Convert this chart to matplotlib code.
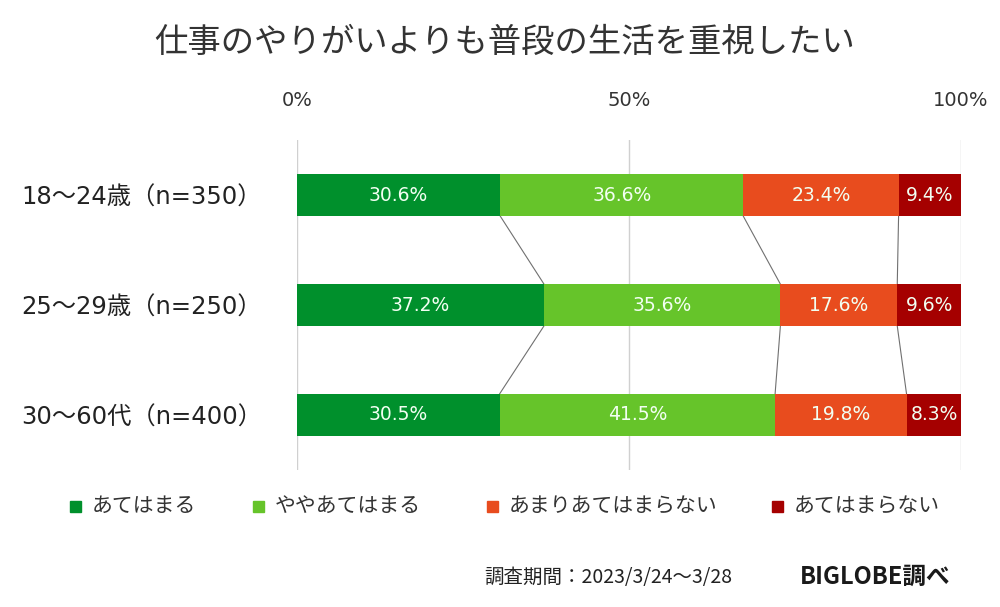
import matplotlib.pyplot as plt
import numpy as np

plt.rcParams['font.family'] = ['Noto Sans CJK JP', 'DejaVu Sans']

title = "仕事のやりがいよりも普段の生活を重視したい"
groups = ["18～24歳（n=350）", "25～29歳（n=250）", "30～60代（n=400）"]
answers = ["あてはまる", "ややあてはまる", "あまりあてはまらない", "あてはまらない"]
values = np.array([
    [30.6, 36.6, 23.4, 9.4],
    [37.2, 35.6, 17.6, 9.6],
    [30.5, 41.5, 19.8, 8.3],
])
colors = ["#00902c", "#66c42a", "#e84c1e", "#a50000"]
ticks = [0, 50, 100]
tick_labels = ["0%", "50%", "100%"]

fig = plt.figure(figsize=(10, 6.07), dpi=100)
ax = fig.add_axes([0.297, 0.226, 0.664, 0.543])

bar_h = 0.38
y = np.arange(len(groups))
lefts = np.zeros(len(groups))
for j, name in enumerate(answers):
    ax.barh(y, values[:, j], left=lefts, height=bar_h, color=colors[j],
            label=name, zorder=3)
    for i in range(len(groups)):
        ax.text(lefts[i] + values[i, j] / 2, y[i], f"{values[i, j]:.1f}%",
                ha='center', va='center', color='#f2fff2', fontsize=13.5,
                family='DejaVu Sans', zorder=4)
    lefts = lefts + values[:, j]

# connector lines between the rows
cum = np.cumsum(values, axis=1)
for i in range(len(groups) - 1):
    for j in range(len(answers) - 1):
        ax.plot([cum[i, j], cum[i + 1, j]], [y[i] + bar_h / 2, y[i + 1] - bar_h / 2],
                color='#707070', lw=0.8, zorder=2)

ax.set_xlim(0, 100)
ax.set_ylim(2.5, -0.5)
for t in ticks:
    ax.axvline(t, color='#d0d0d0', lw=1, zorder=1)
ax.set_xticks(ticks)
ax.set_xticklabels(tick_labels, fontsize=14, color='#333333', family='DejaVu Sans')
ax.xaxis.tick_top()
ax.tick_params(axis='x', length=0, pad=22)
ax.set_yticks(y)
ax.set_yticklabels(groups, fontsize=17.5, color='#222222',
                   family=['DejaVu Sans', 'Noto Sans CJK JP'])
ax.tick_params(axis='y', length=0, pad=25)
for s in ax.spines.values():
    s.set_visible(False)

fig.text(0.505, 0.93, title, ha='center', va='center', fontsize=24, color='#333333')

leg_x = [0.07, 0.253, 0.487, 0.772]
for hx, col, lab in zip(leg_x, colors, answers):
    fig.patches.append(plt.Rectangle((hx, 0.156), 0.011, 0.018, color=col,
                                     transform=fig.transFigure, figure=fig))
    fig.text(hx + 0.022, 0.166, lab, ha='left', va='center', fontsize=15, color='#333333')

fig.text(0.484, 0.049, "調査期間：2023/3/24～3/28", ha='left', va='center',
         fontsize=14, color='#222222')
fig.text(0.8, 0.049, "BIGLOBE調べ", ha='left', va='center', fontsize=17,
         fontweight='bold', color='#1a1a1a')

fig.savefig("out.png", dpi=100, facecolor='white')
